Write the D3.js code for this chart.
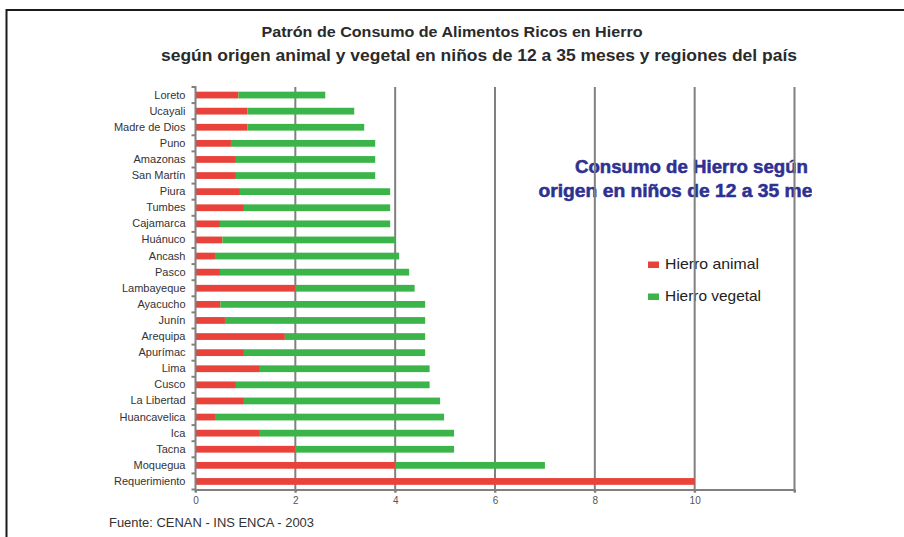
<!DOCTYPE html>
<html>
<head>
<meta charset="utf-8">
<script src="https://cdn.jsdelivr.net/npm/d3@7"></script>
<style>
  html, body { margin: 0; padding: 0; background: #fff; }
  svg { display: block; }
</style>
</head>
<body>
<svg id="chart" width="904" height="537"></svg>
<script>
const regions = ["Loreto","Ucayali","Madre de Dios","Puno","Amazonas","San Martín","Piura","Tumbes","Cajamarca","Huánuco","Ancash","Pasco","Lambayeque","Ayacucho","Junín","Arequipa","Apurímac","Lima","Cusco","La Libertad","Huancavelica","Ica","Tacna","Moquegua","Requerimiento"];
const hierroAnimal  = [0.86,1.04,1.04,0.71,0.81,0.81,0.89,0.97,0.49,0.54,0.39,0.49,2.00,0.50,0.59,1.79,0.97,1.29,0.81,0.97,0.39,1.29,2.00,4.00,10.00];
const hierroVegetal = [1.74,2.14,2.34,2.89,2.79,2.79,3.01,2.93,3.41,3.46,3.69,3.79,2.39,4.10,4.01,2.81,3.63,3.40,3.88,3.93,4.59,3.89,3.18,3.00,0.00];
const xTicks = [0,2,4,6,8,10,12];
const xTickLabels = ["0","2","4","6","8","10",""];
const seriesNames = ["Hierro animal","Hierro vegetal"];
const titleLines = ["Patrón de Consumo de Alimentos Ricos en Hierro","según origen animal y vegetal en niños de 12 a 35 meses y regiones del país"];
const boxLines = ["Consumo de Hierro según","origen en niños de 12 a 35 meses"];
const source = "Fuente: CENAN - INS ENCA - 2003";

const RED = "#e8423b", GREEN = "#3bb54a", GRID = "#808080", BLUE = "#2e3192";
const FONT = "'Liberation Sans', Arial, sans-serif";

const svg = d3.select("#chart");

// frame
svg.append("line").attr("x1",6.5).attr("x2",904).attr("y1",10).attr("y2",10)
  .attr("stroke","#1a1a1a").attr("stroke-width",2);
svg.append("line").attr("x1",6.5).attr("x2",6.5).attr("y1",9).attr("y2",537)
  .attr("stroke","#1a1a1a").attr("stroke-width",2);

// titles
svg.append("text").attr("x",452).attr("y",37).attr("text-anchor","middle")
  .attr("font-family",FONT).attr("font-weight","bold").attr("font-size",14.5).attr("fill","#2a2a2a")
  .attr("textLength",381).attr("lengthAdjust","spacingAndGlyphs")
  .text(titleLines[0]);
svg.append("text").attr("x",479).attr("y",61).attr("text-anchor","middle")
  .attr("font-family",FONT).attr("font-weight","bold").attr("font-size",16).attr("fill","#2a2a2a")
  .attr("textLength",636).attr("lengthAdjust","spacingAndGlyphs")
  .text(titleLines[1]);

const x = d3.scaleLinear().domain([0,12]).range([195.5,794.5]);
const y = d3.scaleBand().domain(regions).range([87,489.5]).paddingInner(0.58).paddingOuter(0.29);
const yEdge = d3.scaleLinear().domain([0,regions.length]).range([87,489.5]);

// overlay blue text (clipped)
svg.append("clipPath").attr("id","boxclip").append("rect")
  .attr("x",400).attr("y",140).attr("width",412).attr("height",80);
const box = svg.append("g").attr("clip-path","url(#boxclip)");
const boxLens = [233, 306];
boxLines.forEach((t,i)=>{
  box.append("text").attr("x",691.5).attr("y",173+i*24).attr("text-anchor","middle")
    .attr("font-family",FONT).attr("font-weight","bold").attr("font-size",17.5).attr("fill",BLUE)
    .attr("stroke",BLUE).attr("stroke-width",0.5)
    .attr("textLength",boxLens[i]).attr("lengthAdjust","spacingAndGlyphs")
    .text(t);
});

// legend
const legend = svg.append("g");
const legLens = [94, 96];
[RED,GREEN].forEach((c,i)=>{
  legend.append("rect").attr("x",648).attr("y",261.5+i*32).attr("width",11).attr("height",6.5).attr("fill",c);
  legend.append("text").attr("x",665).attr("y",268.5+i*32)
    .attr("font-family",FONT).attr("font-size",14.5).attr("fill","#222")
    .attr("textLength",legLens[i]).attr("lengthAdjust","spacingAndGlyphs")
    .text(seriesNames[i]);
});

// gridlines
svg.append("g").selectAll("line").data(xTicks.filter(d=>d>0)).join("line")
  .attr("x1",d=>x(d)).attr("x2",d=>x(d)).attr("y1",87).attr("y2",492.5)
  .attr("stroke",GRID).attr("stroke-width",2);

// bars
const rows = regions.map((r,i)=>({r, a:hierroAnimal[i], v:hierroVegetal[i]}));
const bars = svg.append("g");
bars.selectAll("rect.a").data(rows).join("rect").attr("class","a")
  .attr("x",x(0)).attr("y",d=>y(d.r)).attr("height",y.bandwidth())
  .attr("width",d=>x(d.a)-x(0)).attr("fill",RED);
bars.selectAll("rect.v").data(rows.filter(d=>d.v>0)).join("rect").attr("class","v")
  .attr("x",d=>x(d.a)).attr("y",d=>y(d.r)).attr("height",y.bandwidth())
  .attr("width",d=>x(d.a+d.v)-x(d.a)).attr("fill",GREEN);

// y axis
const yAxis = svg.append("g").attr("transform",`translate(${x(0)},0)`)
  .call(d3.axisLeft(y).tickSize(0).tickPadding(10));
yAxis.select(".domain").remove();
yAxis.selectAll("text").attr("font-family",FONT).attr("font-size",11).attr("fill","#333");
svg.append("g").selectAll("line").data(d3.range(regions.length+1)).join("line")
  .attr("x1",x(0)-4).attr("x2",x(0)).attr("y1",d=>yEdge(d)).attr("y2",d=>yEdge(d))
  .attr("stroke",GRID).attr("stroke-width",2);
svg.append("line").attr("x1",x(0)).attr("x2",x(0)).attr("y1",86).attr("y2",492.5)
  .attr("stroke",GRID).attr("stroke-width",2);

// x axis
const xAxis = svg.append("g").attr("transform","translate(0,489.5)")
  .call(d3.axisBottom(x).tickValues(xTicks).tickFormat((d,i)=>xTickLabels[i]).tickSize(3).tickPadding(4).tickSizeOuter(0));
xAxis.select(".domain").attr("stroke",GRID).attr("stroke-width",2);
xAxis.selectAll(".tick line").attr("stroke",GRID).attr("stroke-width",2);
xAxis.selectAll("text").attr("font-family",FONT).attr("font-size",10).attr("fill","#555");

// source
svg.append("text").attr("x",109).attr("y",527).attr("font-family",FONT).attr("font-size",12.5).attr("fill","#333")
  .attr("textLength",205).attr("lengthAdjust","spacingAndGlyphs")
  .text(source);
</script>
</body>
</html>
